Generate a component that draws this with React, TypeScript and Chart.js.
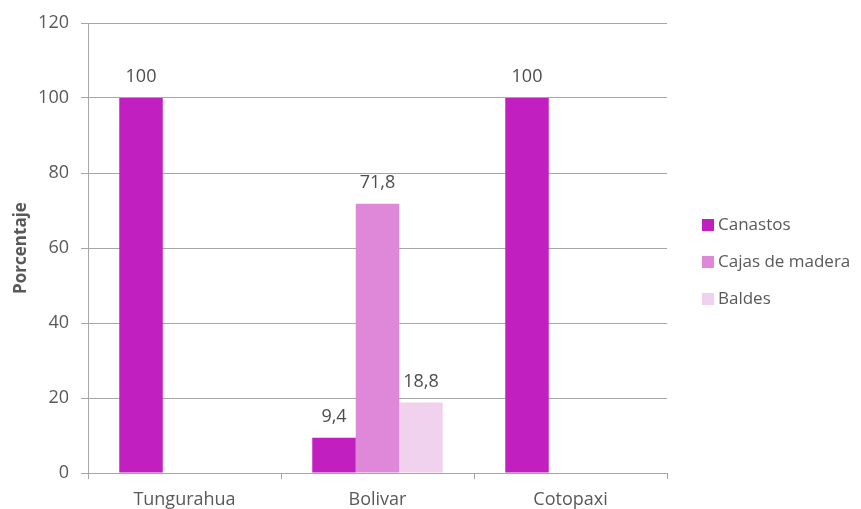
import React, { useEffect, useRef } from "react";
import { Chart, registerables } from "chart.js";

Chart.register(...registerables);

const categories = ["Tungurahua", "Bolivar", "Cotopaxi"];
const seriesNames = ["Canastos", "Cajas de madera", "Baldes"];
const canastos = [100, 9.4, 100];
const cajas = [0, 71.8, 0];
const baldes = [0, 18.8, 0];
const seriesColors = ["#c11fbf", "#df87d8", "#f0d2ee"];
const yMin = 0;
const yMax = 120;
const yStep = 20;
const yTitle = "Porcentaje";

const FONT = "'Open Sans', 'Noto Sans', sans-serif";
const TEXT = "#595959";
const GRID = "#a6a6a6";

const fmt = (v: number) => String(v).replace(".", ",");

const dataLabels = {
  id: "dataLabels",
  afterDatasetsDraw(chart: any) {
    const ctx = chart.ctx;
    ctx.save();
    ctx.font = `18px ${FONT}`;
    ctx.fillStyle = "#4d4d4d";
    ctx.textAlign = "center";
    ctx.textBaseline = "middle";
    chart.data.datasets.forEach((ds: any, i: number) => {
      const meta = chart.getDatasetMeta(i);
      meta.data.forEach((bar: any, j: number) => {
        const v = ds.data[j];
        if (!v) return;
        ctx.fillText(fmt(v), bar.x, bar.y - 21);
      });
    });
    ctx.restore();
  },
};

const customLegend = {
  id: "customLegend",
  afterDraw(chart: any) {
    const ctx = chart.ctx;
    const area = chart.chartArea;
    ctx.save();
    ctx.font = `17px ${FONT}`;
    ctx.textBaseline = "middle";
    ctx.textAlign = "left";
    chart.data.datasets.forEach((ds: any, i: number) => {
      const x = area.right + 35;
      const y = 225 + i * 37;
      ctx.fillStyle = ds.backgroundColor;
      ctx.fillRect(x, y - 6, 12, 12);
      ctx.fillStyle = TEXT;
      ctx.fillText(ds.label, x + 16, y);
    });
    ctx.restore();
  },
};

export default function App() {
  const ref = useRef<HTMLCanvasElement>(null);

  useEffect(() => {
    if (!ref.current) return;
    const values = [canastos, cajas, baldes];
    const chart = new Chart(ref.current, {
      type: "bar",
      data: {
        labels: categories,
        datasets: seriesNames.map((name, i) => ({
          label: name,
          data: values[i],
          backgroundColor: seriesColors[i],
          borderWidth: 0,
          categoryPercentage: 0.676,
          barPercentage: 1.0,
        })),
      },
      options: {
        responsive: false,
        animation: false,
        devicePixelRatio: 1,
        layout: { padding: { left: 0, top: 23, right: 194, bottom: 0 } },
        plugins: {
          legend: { display: false },
          tooltip: { enabled: false },
        },
        scales: {
          x: {
            grid: {
              display: true,
              drawOnChartArea: false,
              drawTicks: true,
              tickLength: 6,
              color: GRID,
              offset: true,
            },
            border: { display: true, color: GRID },
            ticks: {
              color: TEXT,
              font: { family: FONT, size: 18 },
              padding: 10,
            },
            afterFit: (s: any) => {
              s.height = 36;
            },
          },
          y: {
            min: yMin,
            max: yMax,
            ticks: {
              stepSize: yStep,
              color: TEXT,
              font: { family: FONT, size: 18 },
              padding: 12,
            },
            grid: { color: GRID, tickLength: 7, drawTicks: true },
            border: { display: true, color: GRID },
            title: {
              display: true,
              text: yTitle,
              color: TEXT,
              font: { family: FONT, size: 17, weight: "bold" },
              padding: { top: 11, bottom: 0 },
            },
            afterFit: (s: any) => {
              s.width = 88;
            },
          },
        },
      },
      plugins: [dataLabels, customLegend],
    });
    return () => chart.destroy();
  }, []);

  return (
    <canvas
      ref={ref}
      width={861}
      height={509}
      style={{ position: "fixed", left: 0, top: 0, width: 861, height: 509 }}
    />
  );
}
